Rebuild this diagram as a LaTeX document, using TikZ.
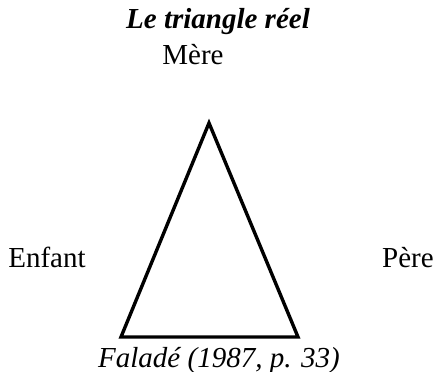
\documentclass[tikz,border=0pt]{standalone}
\usepackage{fontspec}
\setmainfont{Liberation Serif}
\usetikzlibrary{positioning}

\begin{document}
\begin{tikzpicture}[
    x=1pt, y=-1pt,
    every node/.style={font=\fontsize{29}{34}\selectfont, inner sep=0pt, anchor=base},
    side/.style={line width=3.4pt, line join=miter}
]
\useasboundingbox (0,0) rectangle (439,372);

% Titre et sommets
\node (titre) at (218,28) {\textbf{\textit{Le triangle réel}}};
\node (mere) at (193,64) {Mère};
\node (enfant) at (47,267) {Enfant};
\node (pere) at (408,267) {Père};
\node (source) at (219,367) {\textit{Faladé (1987, p. 33)}};

% Triangle
\coordinate (haut) at (209,123);
\coordinate (gauche) at (121,337);
\coordinate (droite) at (298,337);
\draw[side] (haut) -- (gauche) -- (droite) -- cycle;
\end{tikzpicture}
\end{document}
